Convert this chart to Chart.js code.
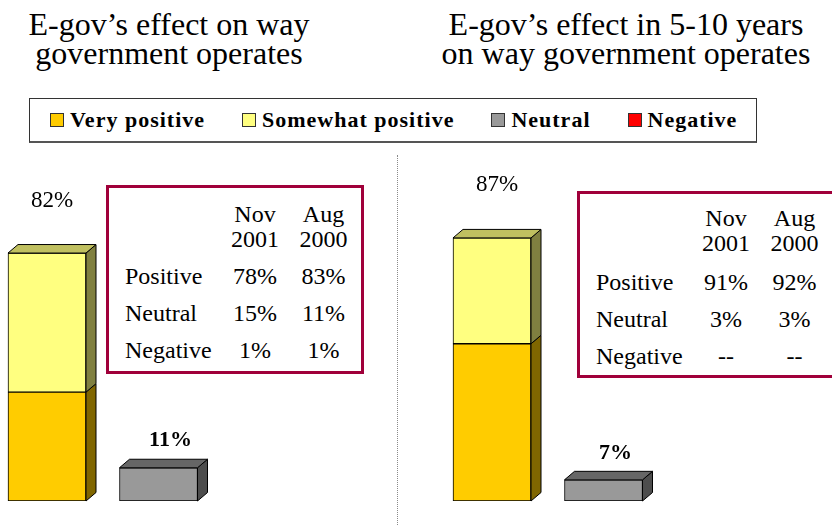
<!DOCTYPE html>
<html>
<head>
<meta charset="utf-8">
<script src="https://cdn.jsdelivr.net/npm/chart.js@4"></script>
<style>
  html, body { margin:0; padding:0; background:#fff; }
  body { width:832px; height:525px; overflow:hidden; position:relative; font-family:"Liberation Serif","Times New Roman",serif; color:#000; }
  .title { position:absolute; width:420px; text-align:center; font-size:32px; line-height:29px; top:10px; white-space:nowrap; }
  #legend { position:absolute; left:29px; top:98px; width:728px; height:45px; box-sizing:border-box; border:1px solid #333; border-bottom:2px solid #555;
            display:flex; align-items:center; gap:37px; padding-left:20px; }
  .li { display:flex; align-items:center; font-weight:bold; font-size:22px; letter-spacing:1px; white-space:nowrap; }
  .sw { width:12px; height:12px; border:1px solid #333; margin-right:6px; }
  #divider { position:absolute; left:397px; top:155px; height:370px; border-left:1px dotted #8a8a8a; }
  canvas { position:absolute; }
  .tbox { position:absolute; box-sizing:border-box; border:3px solid #A0003A; background:#fff; font-size:24px; padding-left:16px; }
  .grid { display:grid; grid-template-columns:100px 60px 77px; }
  .hd { line-height:25px; text-align:center; }
  .lab { line-height:37px; height:37px; white-space:nowrap; }
  .val { line-height:37px; height:37px; text-align:center; white-space:nowrap; }
</style>
</head>
<body>
<div class="title" id="titleL" style="left:-41px"></div>
<div class="title" id="titleR" style="left:416px"></div>
<div id="legend"></div>
<div id="divider"></div>
<canvas id="chartL" width="417" height="375" style="left:-20px; top:150px"></canvas>
<canvas id="chartR" width="432" height="375" style="left:400px; top:150px"></canvas>
<div class="tbox" id="tableL" style="left:106px; top:185px; width:258px; height:189px; padding-top:14px"></div>
<div class="tbox" id="tableR" style="left:577px; top:191px; width:280px; height:187px; padding-top:12px"></div>

<script>
// ---------- data ----------
const titleLeft = ["E-gov\u2019s effect on way", "government operates"];
const titleRight = ["E-gov\u2019s effect in 5-10 years", "on way government operates"];

const categories = ["Positive", "Neutral"];
const seriesNames = ["Very positive", "Somewhat positive", "Neutral", "Negative"];

const leftVeryPositive     = [36, null];
const leftSomewhatPositive = [46, null];
const leftNeutral          = [null, 11];
const leftNegative         = [null, null];

const rightVeryPositive     = [52, null];
const rightSomewhatPositive = [35, null];
const rightNeutral          = [null, 7];
const rightNegative         = [null, null];

const tableColumns = [["Nov", "2001"], ["Aug", "2000"]];
const tableRows = ["Positive", "Neutral", "Negative"];
const leftNov2001  = ["78%", "15%", "1%"];
const leftAug2000  = ["83%", "11%", "1%"];
const rightNov2001 = ["91%", "3%", "--"];
const rightAug2000 = ["92%", "3%", "--"];

// ---------- styles ----------
const frontColors = ["#FFCC00", "#FFFF80", "#999999", "#FF0000"];
const sideColors  = ["#806600", "#808040", "#4D4D4D", "#800000"];
const topColors   = ["#C09A00", "#C0C060", "#666666", "#C00000"];
const FONT = '"Liberation Serif","Times New Roman",serif';

// ---------- titles ----------
document.getElementById("titleL").innerHTML = titleLeft.join("<br>");
document.getElementById("titleR").innerHTML = titleRight.join("<br>");

// ---------- legend ----------
const legendEl = document.getElementById("legend");
seriesNames.forEach((name, i) => {
  const item = document.createElement("div");
  item.className = "li";
  const sw = document.createElement("div");
  sw.className = "sw";
  sw.style.background = frontColors[i];
  item.appendChild(sw);
  item.appendChild(document.createTextNode(name));
  legendEl.appendChild(item);
});

// ---------- tables ----------
function buildTable(el, cols, rows, valueCols, headerGap) {
  const g = document.createElement("div");
  g.className = "grid";
  const blank = document.createElement("div");
  g.appendChild(blank);
  cols.forEach(c => {
    const h = document.createElement("div");
    h.className = "hd";
    h.innerHTML = c.join("<br>");
    h.style.marginBottom = headerGap + "px";
    g.appendChild(h);
  });
  rows.forEach((r, ri) => {
    const l = document.createElement("div");
    l.className = "lab"; l.textContent = r; g.appendChild(l);
    valueCols.forEach(vc => {
      const v = document.createElement("div");
      v.className = "val"; v.textContent = vc[ri]; g.appendChild(v);
    });
  });
  el.appendChild(g);
}
buildTable(document.getElementById("tableL"), tableColumns, tableRows, [leftNov2001, leftAug2000], 6);
buildTable(document.getElementById("tableR"), tableColumns, tableRows, [rightNov2001, rightAug2000], 8);

// ---------- 3D bar plugin ----------
const DX = 10, DY = 8.5;
const labelStyles = [
  { font: "23px " + FONT, gap: 44, nudge: 5 },
  { font: "bold 22px " + FONT, gap: 18.5, nudge: 12 }
];
function poly(ctx, pts, fill) {
  ctx.beginPath();
  ctx.moveTo(pts[0][0], pts[0][1]);
  for (let k = 1; k < pts.length; k++) ctx.lineTo(pts[k][0], pts[k][1]);
  ctx.closePath();
  ctx.fillStyle = fill;
  ctx.fill();
  ctx.lineWidth = 1;
  ctx.strokeStyle = "#000";
  ctx.stroke();
}
const bar3d = {
  id: "bar3d",
  afterDatasetsDraw(chart) {
    const ctx = chart.ctx;
    const dsets = chart.data.datasets;
    ctx.save();
    dsets.forEach((ds, di) => {
      const meta = chart.getDatasetMeta(di);
      meta.data.forEach((bar, i) => {
        const v = ds.data[i];
        if (v == null || v === 0) return;
        const p = bar.getProps(["x", "y", "base", "width"], true);
        const l = p.x - p.width / 2, r = p.x + p.width / 2;
        const t = Math.min(p.y, p.base), b = Math.max(p.y, p.base);
        poly(ctx, [[r, t], [r + DX, t - DY], [r + DX, b - DY], [r, b]], ds.sideColor);
        let topmost = true;
        for (let k = di + 1; k < dsets.length; k++) {
          const w = dsets[k].data[i];
          if (w != null && w !== 0) topmost = false;
        }
        if (topmost) poly(ctx, [[l, t], [l + DX, t - DY], [r + DX, t - DY], [r, t]], ds.topColor);
      });
    });
    // value labels (stack totals)
    const xs = chart.scales.x, ys = chart.scales.y;
    chart.data.labels.forEach((lab, i) => {
      let total = 0, any = false;
      dsets.forEach(ds => { const v = ds.data[i]; if (v != null) { total += v; any = true; } });
      if (!any) return;
      const st = labelStyles[i];
      const x = xs.getPixelForValue(i) + st.nudge;
      const y = ys.getPixelForValue(total) - DY - st.gap;
      ctx.font = st.font;
      ctx.fillStyle = "#000";
      ctx.textAlign = "center";
      ctx.textBaseline = "middle";
      ctx.fillText(total + "%", x, y);
    });
    ctx.restore();
  }
};

function makeChart(id, series, padL, padR) {
  const datasets = series.map((data, i) => ({
    label: seriesNames[i],
    data: data,
    backgroundColor: frontColors[i],
    borderColor: "#000",
    borderWidth: 1,
    borderSkipped: false,
    sideColor: sideColors[i],
    topColor: topColors[i],
    barThickness: 78
  }));
  return new Chart(document.getElementById(id), {
    type: "bar",
    data: { labels: categories, datasets: datasets },
    options: {
      responsive: false,
      animation: false,
      devicePixelRatio: 1,
      layout: { padding: { left: padL, right: padR, top: 48.6, bottom: 24 } },
      plugins: { legend: { display: false }, tooltip: { enabled: false } },
      scales: {
        x: { display: false, stacked: true, offset: true },
        y: { display: false, stacked: true, min: 0, max: 100 }
      }
    },
    plugins: [bar3d]
  });
}

makeChart("chartL", [leftVeryPositive, leftSomewhatPositive, leftNeutral, leftNegative], 11.25, 182.75);
makeChart("chartR", [rightVeryPositive, rightSomewhatPositive, rightNeutral, rightNegative], 36.25, 172.75);
</script>
</body>
</html>
